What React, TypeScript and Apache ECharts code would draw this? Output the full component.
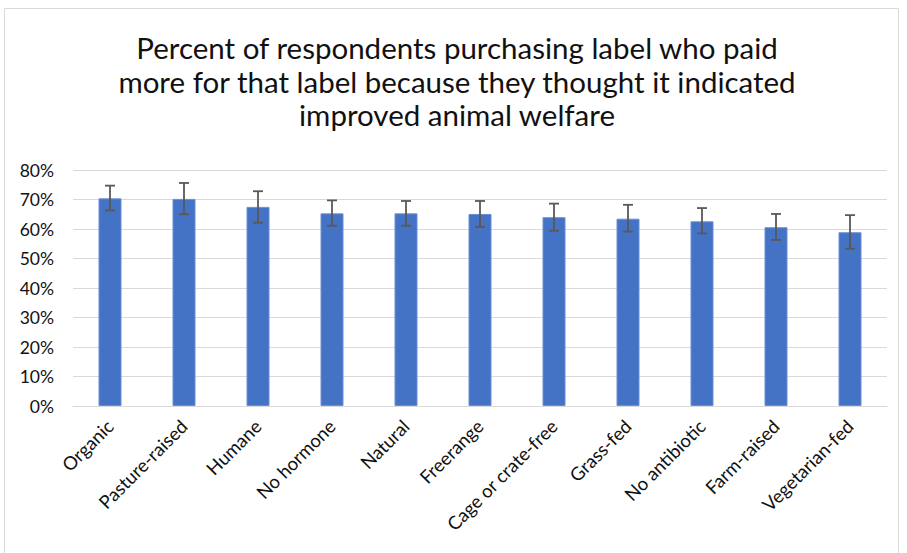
import React, { useEffect, useRef } from "react";
import * as echarts from "echarts";

const categories = [
  "Organic",
  "Pasture-raised",
  "Humane",
  "No hormone",
  "Natural",
  "Freerange",
  "Cage or crate-free",
  "Grass-fed",
  "No antibiotic",
  "Farm-raised",
  "Vegetarian-fed",
];
const values = [70.4, 70.2, 67.5, 65.3, 65.3, 65.1, 64.0, 63.5, 62.6, 60.6, 58.9];
const upper = [74.7, 75.6, 72.8, 69.7, 69.5, 69.5, 68.6, 68.2, 67.1, 65.1, 64.7];
const lower = [66.3, 65.0, 62.1, 61.1, 61.1, 60.7, 59.4, 59.1, 58.5, 56.3, 53.3];
const yTicks = [0, 10, 20, 30, 40, 50, 60, 70, 80];

const titleText =
  "Percent of respondents purchasing label who paid\nmore for that label because they thought it indicated\nimproved animal welfare";

export default function App() {
  const ref = useRef<HTMLDivElement>(null);
  useEffect(() => {
    if (!ref.current) return;
    const chart = echarts.init(ref.current, undefined, { renderer: "svg" });
    const font = "Lato, 'Open Sans', sans-serif";
    chart.setOption({
      animation: false,
      backgroundColor: "#ffffff",
      title: {
        text: titleText,
        left: 452,
        top: 26,
        textAlign: "center",
        textStyle: {
          fontFamily: font,
          fontSize: 29.5,
          fontWeight: "normal",
          color: "#111111",
          lineHeight: 33.5,
        },
      },
      graphic: [
        {
          type: "rect",
          shape: { x: 4.5, y: 8.5, width: 894, height: 600 },
          style: { fill: "none", stroke: "#d9d9d9", lineWidth: 1 },
          silent: true,
        },
      ],
      grid: { left: 73, right: 20, top: 170, bottom: 147, containLabel: false },
      xAxis: {
        type: "category",
        data: categories,
        axisLine: { lineStyle: { color: "#d9d9d9", width: 1 } },
        axisTick: { show: false },
        axisLabel: {
          rotate: 45,
          interval: 0,
          margin: 17,
          fontFamily: font,
          fontSize: 18.5,
          color: "#111111",
        },
      },
      yAxis: {
        type: "value",
        min: yTicks[0],
        max: yTicks[yTicks.length - 1],
        interval: 10,
        axisLine: { show: false },
        axisTick: { show: false },
        splitLine: { lineStyle: { color: "#d9d9d9", width: 1 } },
        axisLabel: {
          formatter: "{value}%",
          margin: 19,
          fontFamily: font,
          fontSize: 17.5,
          color: "#111111",
        },
      },
      series: [
        {
          type: "bar",
          data: values,
          barWidth: 23,
          itemStyle: { color: "#4472C4", borderColor: "#6a8fd4", borderWidth: 1 },
          silent: true,
        },
        {
          type: "custom",
          data: categories.map((_, i) => [i, lower[i], upper[i]]),
          encode: { x: 0, y: [1, 2] },
          silent: true,
          z: 10,
          renderItem: (params: any, api: any) => {
            const x = api.value(0);
            const lo = api.coord([x, api.value(1)]);
            const hi = api.coord([x, api.value(2)]);
            const half = 5;
            const style = { stroke: "#595959", lineWidth: 1.8 };
            return {
              type: "group",
              children: [
                { type: "line", shape: { x1: hi[0], y1: hi[1], x2: lo[0], y2: lo[1] }, style },
                { type: "line", shape: { x1: hi[0] - half, y1: hi[1], x2: hi[0] + half, y2: hi[1] }, style },
                { type: "line", shape: { x1: lo[0] - half, y1: lo[1], x2: lo[0] + half, y2: lo[1] }, style },
              ],
            };
          },
        },
      ],
    });
    return () => chart.dispose();
  }, []);
  return (
    <div
      ref={ref}
      style={{ position: "fixed", left: 0, top: 0, width: 907, height: 553 }}
    />
  );
}
